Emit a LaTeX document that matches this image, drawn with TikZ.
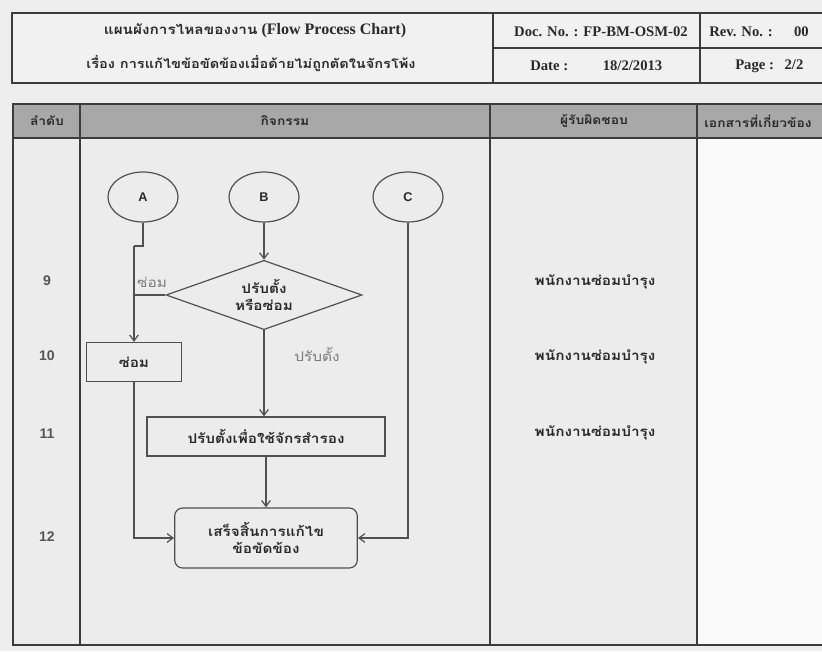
\documentclass[tikz,border=0pt]{standalone}
\usepackage{fontspec}
\setmainfont{Liberation Serif}
\setsansfont{Liberation Sans}
\newfontfamily\thai[Script=Thai,FakeStretch=1.15]{Loma}
\usetikzlibrary{shapes.geometric,arrows.meta}

\definecolor{bgcol}{HTML}{EEEEEE}
\definecolor{boxcol}{HTML}{F1F1F1}
\definecolor{headcol}{HTML}{A8A8A8}
\definecolor{bodycol}{HTML}{ECECEC}
\definecolor{lastcol}{HTML}{FAFAFA}
\definecolor{framegray}{HTML}{3C3C3C}
\definecolor{flowgray}{HTML}{505050}
\definecolor{inkgray}{HTML}{2A2A2A}
\definecolor{numgray}{HTML}{555555}
\definecolor{labelgray}{HTML}{7A7A7A}

\begin{document}
\begin{tikzpicture}[x=0.75pt,y=-0.75pt,
  frame/.style={draw=framegray,line width=1.1pt},
  flowline/.style={draw=flowgray,line width=0.9pt},
  arrowline/.style={flowline,-{Straight Barb[length=4.5pt,width=6.5pt]}},
  titletext/.style={font=\bfseries\fontsize{12}{14}\selectfont,text=inkgray,inner sep=0pt},
  info/.style={font=\bfseries\fontsize{11}{13}\selectfont,text=inkgray,inner sep=0pt},
  headtext/.style={font=\thai\bfseries\fontsize{9}{10}\selectfont,text=inkgray,inner sep=0pt},
  rownum/.style={font=\sffamily\bfseries\fontsize{10.5}{12}\selectfont,text=numgray,inner sep=0pt},
  staff/.style={font=\thai\bfseries\fontsize{10}{11}\selectfont,text=inkgray,inner sep=0pt},
  flowtext/.style={font=\thai\bfseries\fontsize{10}{12.5}\selectfont,text=inkgray,align=center},
  connector/.style={ellipse,draw=flowgray,line width=0.9pt,minimum width=52.5pt,
    minimum height=37.5pt,inner sep=0pt,font=\sffamily\bfseries\fontsize{9.5}{10}\selectfont,text=inkgray},
  decision/.style={diamond,draw=flowgray,line width=0.9pt,minimum width=147pt,
    minimum height=52pt,inner sep=0pt,aspect=2.8,flowtext},
  process/.style={rectangle,draw=flowgray,line width=0.9pt,minimum height=29.25pt,
    inner sep=0pt,flowtext},
  terminal/.style={rectangle,rounded corners=6pt,draw=flowgray,line width=0.9pt,
    minimum width=137pt,minimum height=45pt,inner sep=0pt,flowtext},
  branch/.style={font=\thai\fontsize{10}{11}\selectfont,text=labelgray,inner sep=0pt}
]
\useasboundingbox (0,0) rectangle (822,651);
\clip (0,0) rectangle (822,651);
\fill[bgcol] (0,0) rectangle (822,651);

% document header block
\draw[frame,fill=boxcol] (12,13) rectangle (850,83);
\draw[frame] (493,13) -- (493,83);
\draw[frame] (700,13) -- (700,83);
\draw[frame] (493,48) -- (850,48);

\node[titletext] (title) at (255,31)
  {{\thai\fontsize{10}{12}\selectfont แผนผังการไหลของงาน} (Flow Process Chart)};
\node[titletext,font=\thai\bfseries\fontsize{9.5}{11}\selectfont] (subject) at (251,64)
  {เรื่อง การแก้ไขข้อขัดข้องเมื่อด้ายไม่ถูกตัดในจักรโพ้ง};
\node[info] (docno) at (601,32) {Doc. No. : FP-BM-OSM-02};
\node[info,anchor=west] (revno) at (709,32) {Rev. No. :\hspace{16pt}00};
\node[info,anchor=west] (date) at (530,66) {Date :\hspace{26pt}18/2/2013};
\node[info,anchor=west] (page) at (735,66) {Page :\hspace{8pt}2/2};

% main table
\fill[bodycol] (13,104) rectangle (697,645);
\fill[lastcol] (697,138) rectangle (850,645);
\fill[headcol] (13,104) rectangle (850,138);
\draw[frame] (13,104) rectangle (850,645);
\draw[frame] (13,138) -- (850,138);
\foreach \x in {80,490,697} \draw[frame] (\x,104) -- (\x,645);

\node[headtext] (hseq) at (47,121) {ลำดับ};
\node[headtext] (hact) at (285,121) {กิจกรรม};
\node[headtext] (hresp) at (594,121) {ผู้รับผิดชอบ};
\node[headtext,anchor=west] (hdoc) at (704,121) {เอกสารที่เกี่ยวข้อง};

\node[rownum] (n9) at (47,281) {9};
\node[rownum] (n10) at (47,356) {10};
\node[rownum] (n11) at (47,434) {11};
\node[rownum] (n12) at (47,537) {12};

\node[staff] (s9) at (595,282) {พนักงานซ่อมบำรุง};
\node[staff] (s10) at (595,357) {พนักงานซ่อมบำรุง};
\node[staff] (s11) at (595,433) {พนักงานซ่อมบำรุง};

% flow chart
\node[connector] (A) at (143,197) {A};
\node[connector] (B) at (264,197) {B};
\node[connector] (C) at (408,197) {C};
\node[decision] (d) at (264,295) {ปรับตั้ง\\หรือซ่อม};
\node[process,minimum width=71.25pt] (repair) at (134,362) {ซ่อม};
\node[process,minimum width=178.5pt] (adjust) at (266,436.5) {ปรับตั้งเพื่อใช้จักรสำรอง};
\node[terminal] (done) at (266,538) {เสร็จสิ้นการแก้ไข\\ข้อขัดข้อง};

\coordinate (jogA) at (143,246);
\coordinate (jogB) at (134,246);
\draw[flowline] (A.south) -- (jogA) -- (jogB);
\draw[arrowline] (jogB) -- (repair.north);
\draw[flowline] (d.west) -- (d.west -| jogB);
\node[branch] (lrepair) at (152,282) {ซ่อม};
\draw[arrowline] (B.south) -- (d.north);
\draw[arrowline] (d.south) -- (d.south |- adjust.north);
\node[branch] (ladjust) at (317,354) {ปรับตั้ง};
\draw[arrowline] (adjust.south) -- (done.north);
\draw[arrowline] (repair.south) |- (done.west);
\draw[arrowline] (C.south) |- (done.east);
\end{tikzpicture}
\end{document}
